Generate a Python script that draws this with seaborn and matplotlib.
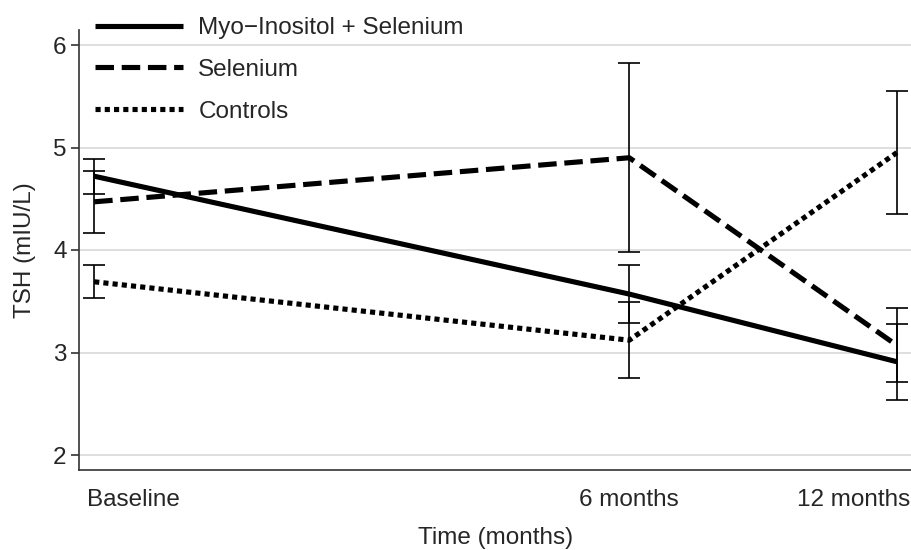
import pandas as pd
import numpy as np
import matplotlib
matplotlib.use("Agg")
import matplotlib.pyplot as plt
import matplotlib.transforms as mtransforms
import seaborn as sns

# ---------- data ----------
visit_time = [0, 6, 9]
tick_labels = ["Baseline", "6 months", "12 months"]
groups = ["Myo\u2212Inositol + Selenium", "Selenium", "Controls"]

myo_mean = [4.72, 3.57, 2.91]
myo_err = [0.17, 0.28, 0.37]
se_mean = [4.47, 4.90, 3.07]
se_err = [0.30, 0.92, 0.36]
ctrl_mean = [3.69, 3.12, 4.95]
ctrl_err = [0.16, 0.37, 0.60]

means = [myo_mean, se_mean, ctrl_mean]
errs = [myo_err, se_err, ctrl_err]

df = pd.DataFrame({
    "time": visit_time * 3,
    "group": np.repeat(groups, len(visit_time)),
    "tsh": myo_mean + se_mean + ctrl_mean,
    "err": myo_err + se_err + ctrl_err,
})

# ---------- style ----------
sns.set_style("white")
plt.rcParams["font.family"] = ["Liberation Sans", "DejaVu Sans"]
plt.rcParams["font.size"] = 17.5

fig = plt.figure(figsize=(9.12, 5.5), dpi=100)
ax = fig.add_axes([79 / 912, 1 - 470 / 550, 1 - 79 / 912, 440 / 550])

# gridlines
ax.set_yticks([2, 3, 4, 5, 6])
ax.yaxis.grid(True, color="#d6d6d6", linewidth=1.1)
ax.set_axisbelow(True)

# error bars
for g, m, e in zip(groups, means, errs):
    ax.errorbar(visit_time, m, yerr=e, fmt="none", ecolor="black",
                elinewidth=1.2, capsize=8, capthick=1.2, zorder=3)

# lines
sns.lineplot(data=df, x="time", y="tsh", style="group", style_order=groups,
             dashes={groups[0]: "", groups[1]: (3.6, 1.5), groups[2]: (1, 0.8)},
             color="black", linewidth=3.7, ax=ax, zorder=4, legend=True)
for ln in ax.get_lines():
    ln.set_dash_capstyle("butt")
    ln.set_solid_capstyle("butt")

ax.set_xlim(-0.17, 9.17)
ax.set_ylim(2 - 15 / 102.5, 6 + 15 / 102.5)

ax.set_xticks(visit_time)
ax.set_xticklabels(tick_labels)
ax.tick_params(axis="x", length=0, pad=14, labelsize=17.5)
ax.tick_params(axis="y", length=6, width=1.2, color="#333333", pad=3,
               labelsize=17.5, left=True)

# stata-style placement of the x labels
xlabs = ax.get_xticklabels()
xlabs[0].set_ha("left")
xlabs[0].set_transform(xlabs[0].get_transform() +
                       mtransforms.ScaledTranslation(-7 / 100, 0, fig.dpi_scale_trans))
xlabs[2].set_ha("right")
xlabs[2].set_transform(xlabs[2].get_transform() +
                       mtransforms.ScaledTranslation(13 / 100, 0, fig.dpi_scale_trans))

ax.set_xlabel("Time (months)", fontsize=17.5, labelpad=11)
ax.set_ylabel("TSH (mIU/L)", fontsize=17.5, labelpad=12)

for side in ["top", "right"]:
    ax.spines[side].set_visible(False)
for side in ["left", "bottom"]:
    ax.spines[side].set_color("#333333")
    ax.spines[side].set_linewidth(1.2)

# legend
handles, labels = ax.get_legend_handles_labels()
leg = ax.legend(handles, labels, loc="upper left",
                bbox_to_anchor=(95 / 912, 1 - 17 / 550),
                bbox_transform=fig.transFigure, frameon=False,
                borderpad=0, borderaxespad=0, handlelength=3.6,
                handletextpad=0.65, labelspacing=0.82, fontsize=17.5)
for ln in leg.get_lines():
    ln.set_linewidth(3.7)
    ln.set_color("black")

fig.savefig("out.png", dpi=100)
